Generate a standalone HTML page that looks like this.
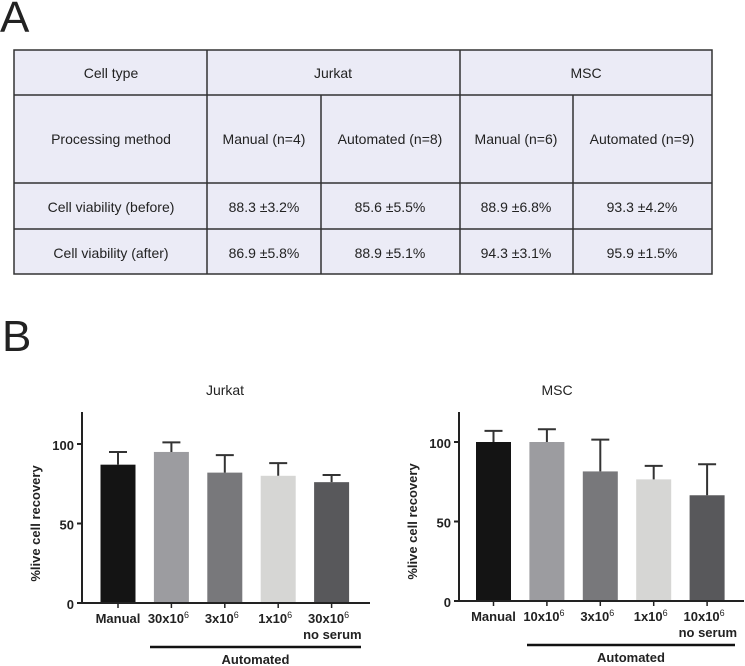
<!DOCTYPE html>
<html><head><meta charset="utf-8"><style>
body{margin:0;background:#fff;width:745px;height:666px;overflow:hidden}
svg{display:block;font-family:"Liberation Sans",Arial,sans-serif}
.t{font-size:14px;fill:#222;text-anchor:middle}
.ax{font-weight:bold;font-size:13px;fill:#222}
</style></head><body>
<svg id="svg" width="745" height="666">
<text x="0" y="32" font-size="44" fill="#222">A</text>
<g stroke="#333" stroke-width="1.5">
<rect x="14" y="50" width="698" height="224" fill="#ebebf6"/>
<line x1="14" y1="95" x2="712" y2="95"/><line x1="14" y1="183" x2="712" y2="183"/><line x1="14" y1="229" x2="712" y2="229"/>
<line x1="207" y1="50" x2="207" y2="274"/><line x1="460" y1="50" x2="460" y2="274"/>
<line x1="321" y1="95" x2="321" y2="274"/><line x1="573" y1="95" x2="573" y2="274"/>
</g>
<g stroke="none">
<text class="t" x="111" y="78">Cell type</text>
<text class="t" x="333" y="78">Jurkat</text>
<text class="t" x="586" y="78">MSC</text>
<text class="t" x="111" y="144">Processing method</text>
<text class="t" x="264" y="144">Manual (n=4)</text>
<text class="t" x="390" y="144">Automated (n=8)</text>
<text class="t" x="516" y="144">Manual (n=6)</text>
<text class="t" x="642" y="144">Automated (n=9)</text>
<text class="t" x="111" y="212">Cell viability (before)</text>
<text class="t" x="264" y="212">88.3 ±3.2%</text>
<text class="t" x="390" y="212">85.6 ±5.5%</text>
<text class="t" x="516" y="212">88.9 ±6.8%</text>
<text class="t" x="642" y="212">93.3 ±4.2%</text>
<text class="t" x="111" y="258">Cell viability (after)</text>
<text class="t" x="264" y="258">86.9 ±5.8%</text>
<text class="t" x="390" y="258">88.9 ±5.1%</text>
<text class="t" x="516" y="258">94.3 ±3.1%</text>
<text class="t" x="642" y="258">95.9 ±1.5%</text>
</g>
<text x="2" y="351" font-size="44" fill="#222">B</text>
<g id="c1"></g>
<g id="c2"></g>
</svg>
<script>
const jurkatCats=["Manual","30x10","3x10","1x10","30x10"];
const jurkatMeans=[87,95,82,80,76];
const jurkatErr=[95,101,93,88,80.5];
const mscCats=["Manual","10x10","3x10","1x10","10x10"];
const mscMeans=[100,100,81.5,76.5,66.5];
const mscErr=[107,108,101.5,85,86];
const yTicks=[0,50,100];
const colors=["#141414","#9c9ca0","#78787b","#d6d6d4","#58585b"];
const NS="http://www.w3.org/2000/svg";
function mk(p,tag,a,txt){const e=document.createElementNS(NS,tag);for(const k in a)e.setAttribute(k,a[k]);if(txt!==undefined)e.textContent=txt;p.appendChild(e);return e;}
function chart(g,title,cats,means,errs,o){
  const y=v=>o.y0-v*o.k;
  const x=i=>o.x0+o.off+i*o.step;
  const t=mk(g,"text",{x:o.tx,y:395,"font-size":14,fill:"#222","text-anchor":"middle"},title);
  
  
  cats.forEach((c,i)=>{
    const b=mk(g,"rect",{x:x(i)-17.5,y:y(means[i]),width:35,height:o.y0-y(means[i]),fill:colors[i]});
    
    
    const e=mk(g,"path",{d:`M${x(i)} ${y(means[i])}V${y(errs[i])}M${x(i)-9} ${y(errs[i])}H${x(i)+9}`,stroke:"#333","stroke-width":2,fill:"none"});
    
    
    mk(g,"line",{x1:x(i),x2:x(i),y1:o.y0,y2:o.y0+5,stroke:"#222","stroke-width":1.5});
    const l=mk(g,"text",{x:x(i)+(i?-3:0),y:o.y0+20,class:"ax","text-anchor":"middle"},c);
    if(i) mk(l,"tspan",{dy:-5,"font-size":9,"font-weight":"normal"},"6");
    
    
  });
  const ns=mk(g,"text",{x:x(4)+30,y:o.y0+36,class:"ax","text-anchor":"end"},"no serum");
  
  
  mk(g,"path",{d:`M${o.x0} 412V${o.y0}H${o.xe}`,stroke:"#222","stroke-width":2,fill:"none"});
  yTicks.forEach(v=>{
    mk(g,"line",{x1:o.x0-5,x2:o.x0,y1:y(v),y2:y(v),stroke:"#222","stroke-width":2});
    const tl=mk(g,"text",{x:o.x0-8,y:y(v)+6,class:"ax","font-size":16,"text-anchor":"end"},v);
    
    
  });
  const yl=mk(g,"text",{transform:`translate(${o.x0-42},${y(50)}) rotate(-90)`,class:"ax","font-size":16,"text-anchor":"middle"},"%live cell recovery");
  
  
  mk(g,"line",{x1:o.l1,x2:o.l2,y1:o.y0+44,y2:o.y0+44,stroke:"#111","stroke-width":2.5});
  const au=mk(g,"text",{x:(o.l1+o.l2)/2,y:o.y0+61,class:"ax","font-size":14,"text-anchor":"middle"},"Automated");
  
  
}
chart(document.getElementById("c1"),"Jurkat",jurkatCats,jurkatMeans,jurkatErr,{x0:82,xe:370,y0:603,k:1.59,off:36,step:53.4,tx:225,l1:150,l2:361});
chart(document.getElementById("c2"),"MSC",mscCats,mscMeans,mscErr,{x0:459,xe:744,y0:601,k:1.59,off:34.5,step:53.4,tx:557,l1:527,l2:735});
</script>
</body></html>
